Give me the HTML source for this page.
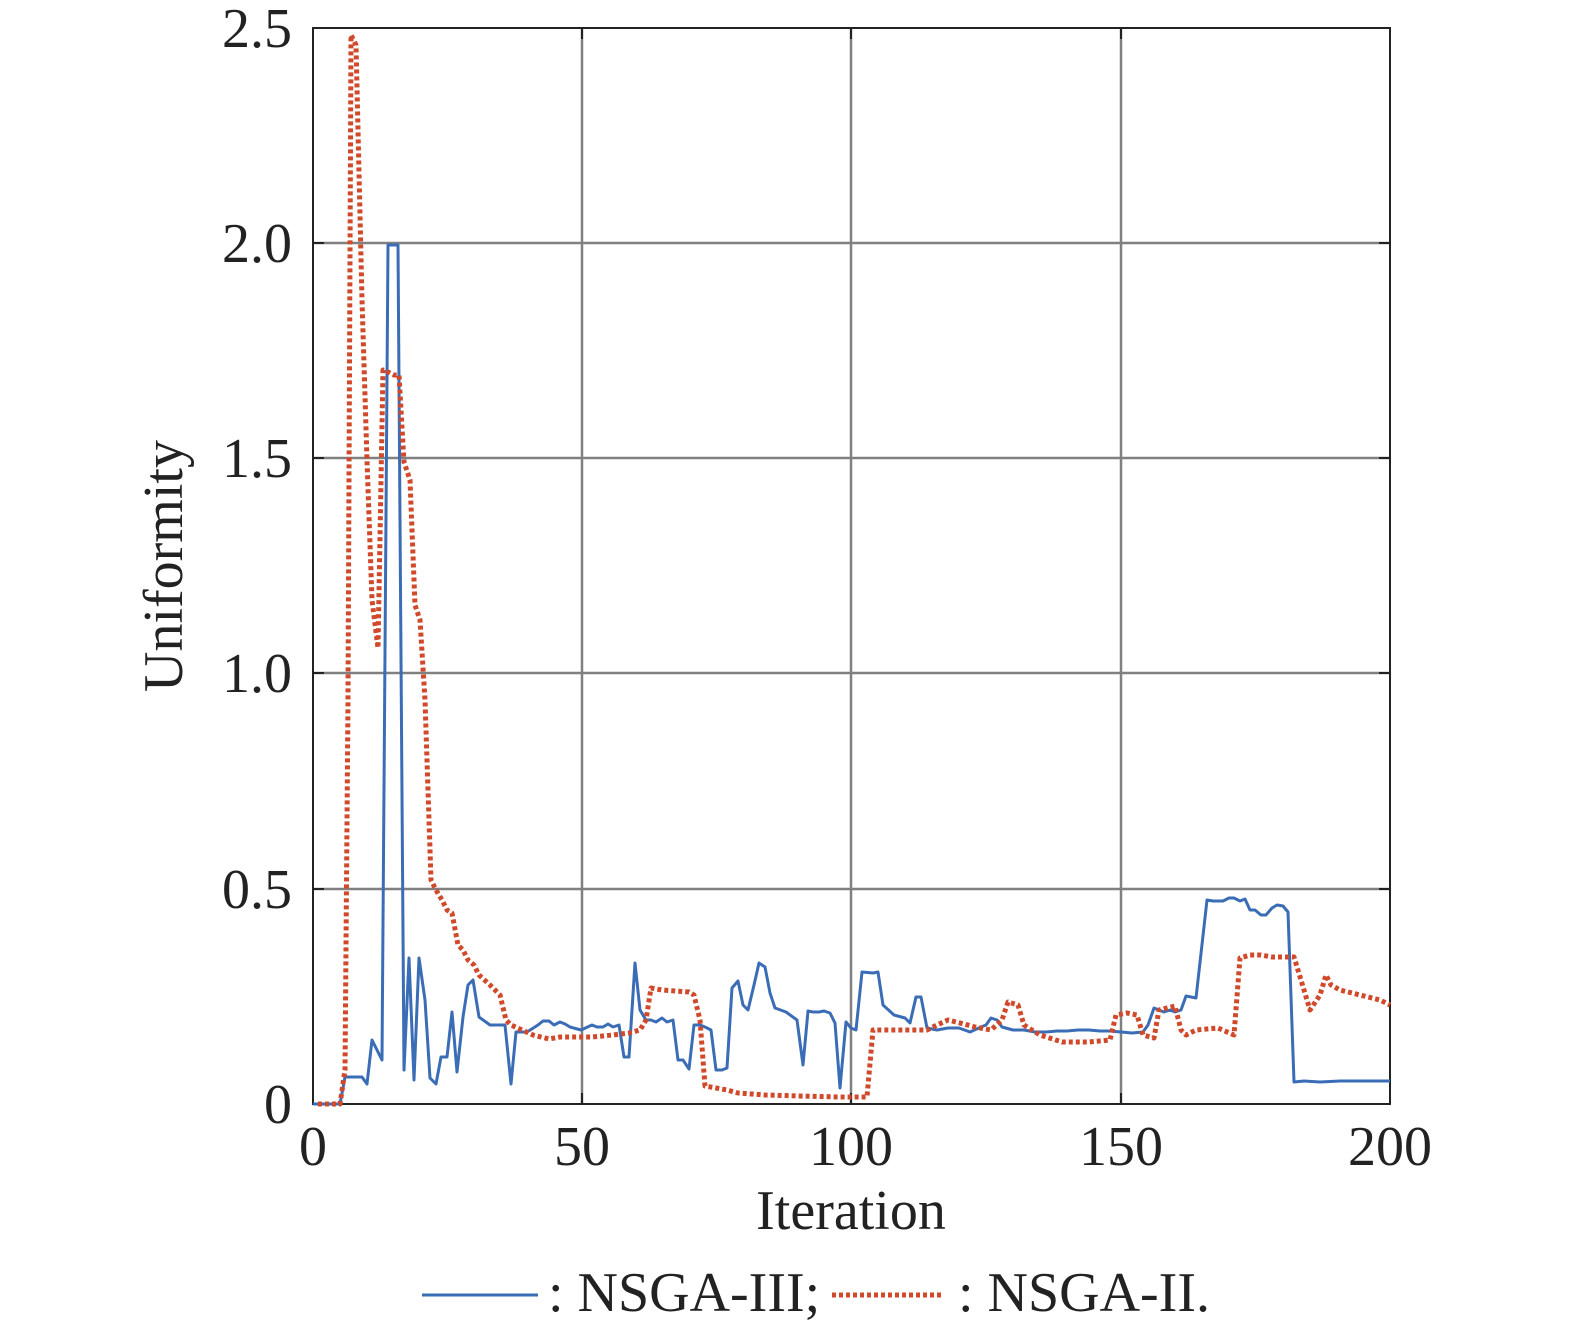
<!DOCTYPE html>
<html><head><meta charset="utf-8"><style>
html,body{margin:0;padding:0;background:#fff;overflow:hidden;width:1575px;height:1328px}
svg{display:block}
svg text{font-family:"Liberation Serif",serif;fill:#222}
</style></head><body>
<svg width="1575" height="1328" viewBox="0 0 1575 1328" xmlns="http://www.w3.org/2000/svg">
<rect width="1575" height="1328" fill="#fff"/>
<g stroke="#808080" stroke-width="2.5">
<line x1="582" y1="28" x2="582" y2="1104"/><line x1="851" y1="28" x2="851" y2="1104"/><line x1="1121" y1="28" x2="1121" y2="1104"/>
<line x1="313" y1="243" x2="1390" y2="243"/><line x1="313" y1="458" x2="1390" y2="458"/><line x1="313" y1="673" x2="1390" y2="673"/><line x1="313" y1="889" x2="1390" y2="889"/>
</g>
<rect x="313" y="28" width="1077" height="1076" fill="none" stroke="#222" stroke-width="2"/>
<g stroke="#222" stroke-width="2">
<line x1="582" y1="1104" x2="582" y2="1093"/><line x1="851" y1="1104" x2="851" y2="1093"/><line x1="1121" y1="1104" x2="1121" y2="1093"/>
<line x1="582" y1="28" x2="582" y2="39"/><line x1="851" y1="28" x2="851" y2="39"/><line x1="1121" y1="28" x2="1121" y2="39"/>
<line x1="313" y1="243" x2="324" y2="243"/><line x1="313" y1="458" x2="324" y2="458"/><line x1="313" y1="673" x2="324" y2="673"/><line x1="313" y1="889" x2="324" y2="889"/>
<line x1="1390" y1="243" x2="1379" y2="243"/><line x1="1390" y1="458" x2="1379" y2="458"/><line x1="1390" y1="673" x2="1379" y2="673"/><line x1="1390" y1="889" x2="1379" y2="889"/>
</g>
<polyline fill="none" stroke="#3a6db5" stroke-width="3" stroke-linejoin="round" points="313,1104 340,1104 345,1077 362,1077 367,1084 372,1040 382,1060 388,245 398,245 404,1070 409,958 414,1080 419,958 425,1000 430,1078 436,1084 441,1057 447,1057 452,1012 457,1072 463,1017 468,985 473,980 479,1017 490,1025 505,1025 511,1084 516,1032 527,1032 538,1025 543,1021 549,1021 554,1025 560,1022 565,1024 570,1027 581,1030 592,1025 597,1027 603,1027 608,1024 613,1027 619,1025 624,1057 629,1057 635,963 640,1010 646,1020 651,1020 656,1022 662,1018 667,1022 673,1020 678,1060 683,1060 689,1069 694,1025 700,1025 705,1027 711,1030 716,1070 722,1070 727,1068 732,988 738,981 743,1005 748,1010 754,985 759,963 765,967 770,993 775,1008 786,1012 797,1020 803,1065 808,1011 813,1012 819,1012 824,1011 830,1013 835,1023 840,1088 846,1022 851,1028 856,1030 862,972 873,973 878,972 883,1005 894,1015 905,1018 910,1023 916,997 921,997 927,1028 937,1030 948,1028 959,1028 970,1032 981,1027 986,1025 991,1018 997,1020 1002,1027 1013,1030 1024,1030 1035,1032 1046,1032 1057,1031 1067,1031 1078,1030 1089,1030 1100,1031 1110,1031 1121,1032 1132,1033 1143,1032 1148,1025 1154,1008 1159,1010 1164,1012 1170,1010 1175,1012 1181,1010 1186,996 1196,998 1207,900 1213,901 1223,901 1229,898 1234,898 1240,901 1245,899 1250,910 1255,910 1261,915 1266,915 1272,908 1277,905 1283,906 1288,912 1294,1082 1304,1081 1320,1082 1340,1081 1390,1081"/>
<polyline fill="none" stroke="#d0492a" stroke-width="5" stroke-dasharray="4,3" stroke-linejoin="round" points="318,1104 340,1104 345,1070 348,700 351,35 356,45 362,300 367,460 372,600 378,648 383,370 388,372 394,375 399,375 404,462 410,480 415,605 420,620 425,700 431,880 436,890 442,900 447,910 452,913 458,945 463,950 468,960 474,965 479,975 490,985 500,995 506,1020 511,1025 522,1030 533,1035 549,1039 560,1037 576,1037 592,1037 613,1035 629,1033 640,1030 646,1020 651,988 662,990 689,992 694,995 700,1020 705,1086 716,1088 727,1090 738,1093 765,1095 800,1096 840,1097 867,1097 873,1030 900,1030 927,1030 937,1025 948,1020 964,1024 975,1027 991,1030 1002,1020 1008,1002 1018,1005 1024,1025 1040,1035 1062,1042 1089,1042 1110,1040 1116,1015 1127,1013 1137,1015 1143,1035 1154,1038 1159,1010 1175,1006 1181,1030 1186,1035 1196,1030 1218,1028 1234,1035 1240,958 1250,955 1261,955 1272,957 1283,957 1294,957 1304,990 1310,1010 1320,995 1326,975 1331,985 1340,990 1360,995 1380,1000 1390,1005"/>
<g font-size="56" text-anchor="end">
<text x="292" y="1123">0</text><text x="292" y="908">0.5</text><text x="292" y="692">1.0</text><text x="292" y="477">1.5</text><text x="292" y="262">2.0</text><text x="292" y="47">2.5</text>
</g>
<g font-size="56" text-anchor="middle">
<text x="313" y="1165">0</text><text x="582" y="1165">50</text><text x="851" y="1165">100</text><text x="1121" y="1165">150</text><text x="1390" y="1165">200</text>
<text x="851" y="1229">Iteration</text>
<text transform="translate(182,566) rotate(-90)">Uniformity</text>
</g>
<line x1="422" y1="1295" x2="538" y2="1295" stroke="#3a6db5" stroke-width="3"/>
<line x1="832" y1="1295" x2="942" y2="1295" stroke="#d0492a" stroke-width="5" stroke-dasharray="4,3"/>
<text x="548" y="1311" font-size="56">: NSGA-III;</text>
<text x="958" y="1311" font-size="56">: NSGA-II.</text>
</svg>
</body></html>
